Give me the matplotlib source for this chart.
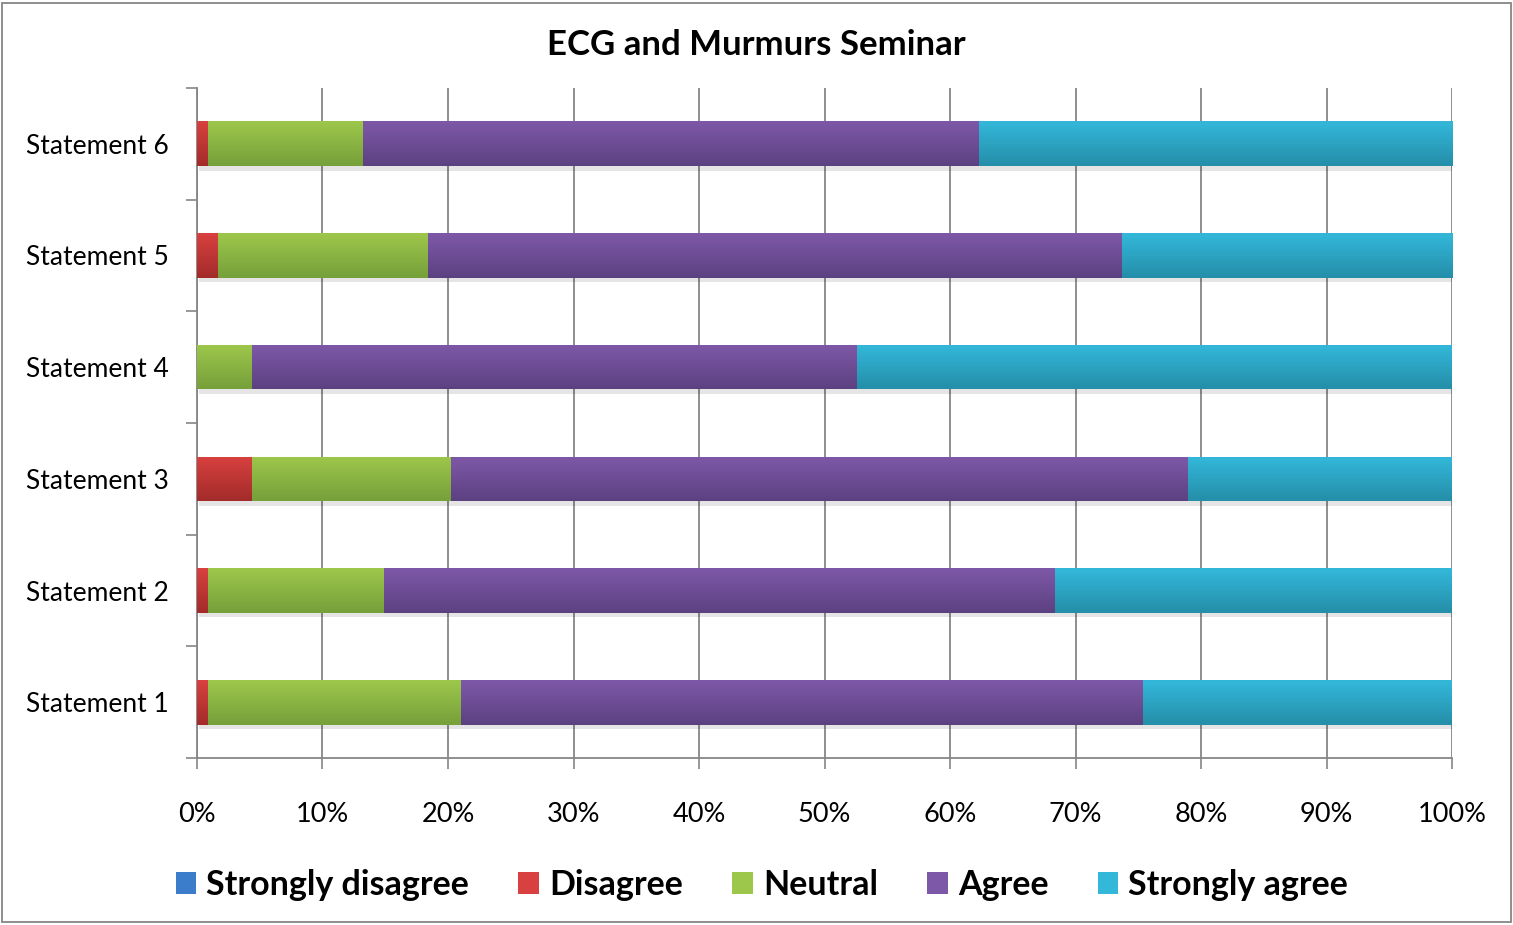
import numpy as np
import matplotlib.pyplot as plt
from matplotlib.colors import LinearSegmentedColormap
from matplotlib.patches import Rectangle

statements = ['Statement 1', 'Statement 2', 'Statement 3', 'Statement 4', 'Statement 5', 'Statement 6']
categories = ['Strongly disagree', 'Disagree', 'Neutral', 'Agree', 'Strongly agree']

# percentages per statement (1..6)
strongly_disagree = [0.0, 0.0, 0.0, 0.0, 0.0, 0.0]
disagree = [0.9, 0.9, 4.4, 0.0, 1.7, 0.9]
neutral = [20.1, 14.0, 15.8, 4.4, 16.7, 12.3]
agree = [54.4, 53.5, 58.8, 48.2, 55.3, 49.1]
strongly_agree = [24.6, 31.6, 21.0, 47.4, 26.3, 37.7]

series = [strongly_disagree, disagree, neutral, agree, strongly_agree]
top_colors = ['#3C7DCB', '#D8413F', '#9DC74B', '#7E58A8', '#33B8DA']
bottom_colors = ['#2A5C9C', '#A22B2A', '#76A03A', '#5C4181', '#258EA9']

plt.rcParams['font.family'] = ['Lato', 'DejaVu Sans']

fig = plt.figure(figsize=(15.13, 9.25), dpi=100)
ax = fig.add_axes([0.1302, 0.1805, 0.8295, 0.7244])

y = np.arange(len(statements))
left = np.zeros(len(statements))
handles = []
for vals, c_top, c_bot, name in zip(series, top_colors, bottom_colors, categories):
    vals = np.array(vals)
    bars = ax.barh(y, vals, left=left, height=0.40, color=c_top, linewidth=0, label=name, zorder=3)
    cmap = LinearSegmentedColormap.from_list(name, [c_bot, c_top])
    grad = np.linspace(0, 1, 64).reshape(-1, 1)
    for b in bars:
        if b.get_width() <= 0:
            continue
        x0, y0 = b.get_x(), b.get_y()
        w, h = b.get_width(), b.get_height()
        # soft shadow under each bar
        ax.add_patch(Rectangle((x0 + 0.15, y0 - 0.04), w, h, color='#000000', alpha=0.10,
                               linewidth=0, zorder=2))
        im = ax.imshow(grad, cmap=cmap, extent=(x0, x0 + w, y0, y0 + h), aspect='auto',
                       origin='lower', zorder=4, interpolation='bicubic')
        im.set_clip_path(b)
    handles.append(Rectangle((0, 0), 1, 1, facecolor=c_top, edgecolor='none'))
    left += vals

ax.set_xlim(0, 100)
ax.set_ylim(-0.5, 5.5)
ax.set_xticks(np.arange(0, 101, 10))
ax.set_xticklabels([f'{v}%' for v in range(0, 101, 10)], fontsize=19.5)
ax.set_yticks(y)
ax.set_yticklabels(statements, fontsize=19)
ax.set_yticks(np.arange(-0.5, 6, 1), minor=True)
ax.tick_params(axis='y', which='major', length=0, pad=20)
ax.tick_params(axis='y', which='minor', length=8, color='#868686', width=1.2)
ax.tick_params(axis='x', length=8, color='#868686', width=1.2, pad=24)
ax.grid(axis='x', color='#868686', linewidth=1.3, zorder=0)
for side in ['top', 'right']:
    ax.spines[side].set_visible(False)
for side in ['left', 'bottom']:
    ax.spines[side].set_color('#868686')
    ax.spines[side].set_linewidth(1.3)

fig.text(0.5, 0.951, 'ECG and Murmurs Seminar', ha='center', va='center', fontsize=25, fontweight='bold')

fig.legend(handles, categories, loc='center', bbox_to_anchor=(0.5036, 0.043), ncol=5, frameon=False,
           prop={'size': 24.5, 'weight': 'bold'}, handlelength=0.6, handleheight=0.6,
           handletextpad=0.3, columnspacing=1.45)

fig.patches.append(Rectangle((0.0015, 0.003), 0.997, 0.994, transform=fig.transFigure,
                             fill=False, edgecolor='#868686', linewidth=1.3))

fig.savefig('out.png', dpi=100)
